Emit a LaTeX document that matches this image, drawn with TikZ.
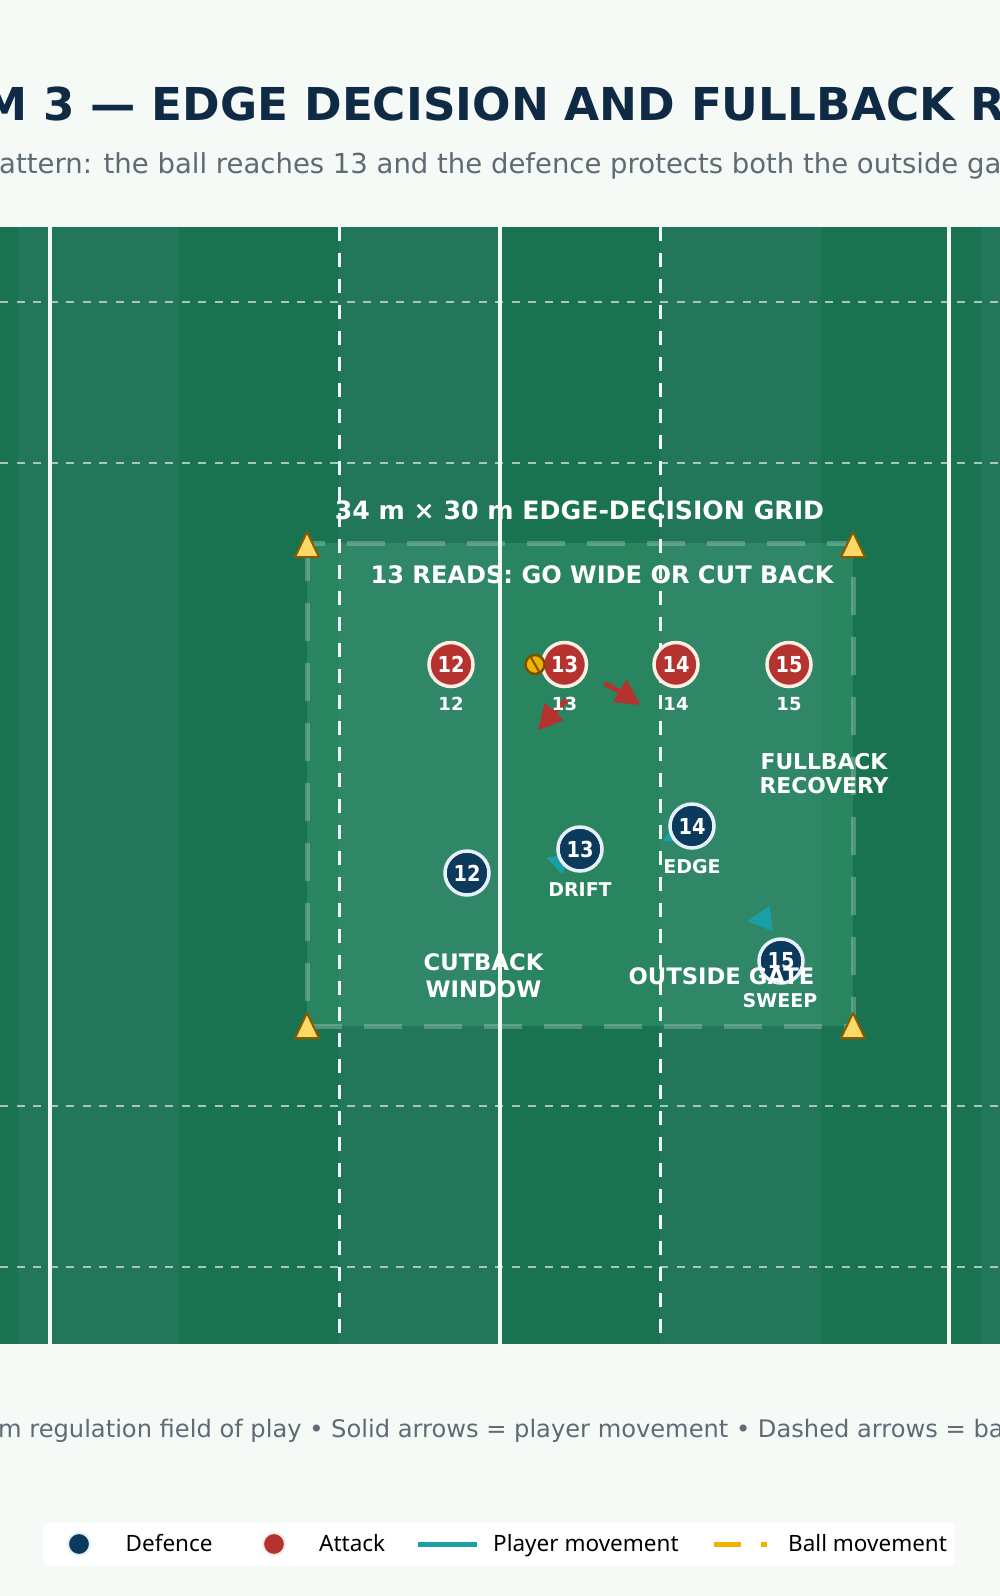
\documentclass[tikz,border=0pt]{standalone}
\usepackage{fontspec}
\setmainfont{DejaVu Sans}
\newfontfamily\nsf{Noto Sans}
\newfontfamily\numfont{DejaVu Sans}[FakeStretch=0.88]
\usetikzlibrary{arrows.meta}
\definecolor{pagebg}{HTML}{F5FAF6}
\definecolor{stripeA}{HTML}{1A7350}
\definecolor{stripeB}{HTML}{22765A}
\definecolor{gridfill}{HTML}{67CFA1}
\definecolor{titlecol}{HTML}{0F2A44}
\definecolor{subcol}{HTML}{5E6A74}
\definecolor{atk}{HTML}{B5332E}
\definecolor{atkring}{HTML}{FBEEE4}
\definecolor{def}{HTML}{0C3A5D}
\definecolor{defring}{HTML}{E6F0F8}
\definecolor{mover}{HTML}{1A9FA6}
\definecolor{ballfill}{HTML}{F2B300}
\definecolor{ballline}{HTML}{7A5000}
\definecolor{conefill}{HTML}{FFD966}
\definecolor{conedraw}{HTML}{8A5A00}
\definecolor{fieldline}{HTML}{F2F8F4}
\begin{document}
\begin{tikzpicture}[x=1pt,y=-1pt,
  attacker/.style={circle, fill=atk, draw=atkring, line width=3.5pt, minimum size=44pt, inner sep=0pt, text=white, font=\numfont\bfseries\fontsize{22}{22}\selectfont},
  defender/.style={circle, fill=def, draw=defring, line width=3.5pt, minimum size=44pt, inner sep=0pt, text=white, font=\numfont\bfseries\fontsize{22}{22}\selectfont},
  tag/.style={anchor=base, inner sep=0pt, text=white, font=\bfseries\fontsize{18}{18}\selectfont},
  zone/.style={anchor=base, inner sep=0pt, text=white, font=\bfseries\fontsize{22.3}{22.3}\selectfont},
  gridlbl/.style={anchor=base, inner sep=0pt, text=white},
  solidline/.style={draw=fieldline, line width=4pt},
  dashline/.style={draw=fieldline, line width=3pt, dash pattern=on 14pt off 12pt},
  dotline/.style={draw=white, draw opacity=0.6, line width=2.5pt, dash pattern=on 8pt off 8.5pt},
  cone/.style={fill=conefill, draw=conedraw, line width=2pt, line join=round},
  atkhead/.style={fill=atk, draw=atk, line width=1.5pt, line join=round},
  defhead/.style={fill=mover, draw=mover, line width=1.5pt, line join=round},
  legtext/.style={anchor=base west, inner sep=0pt, text=black, font=\nsf\fontsize{22.5}{22.5}\selectfont},
  legdot/.style={circle, minimum size=22pt, inner sep=0pt, line width=2pt}
]
\useasboundingbox (0,0) rectangle (1000,1596);
\fill[pagebg] (0,0) rectangle (1000,1596);

% title and subtitle
\node[anchor=base, inner sep=0pt, text=titlecol, font=\bfseries\fontsize{45.3}{45.3}\selectfont] (title) at (512,120.5) {DIAGRAM 3 — EDGE DECISION AND FULLBACK RECOVERY};
\node[anchor=base west, inner sep=0pt, text=subcol, font=\fontsize{27.5}{27.5}\selectfont] (subtitle) at (-1,173) {\llap{Right-edge attack p}attern: the ball reaches 13 and the defence protects both the outside gate and the cutback.};

% field stripes
\fill[stripeA] (0,227) rectangle (1000,1344);
\foreach \xa in {18,339,660,981} \fill[stripeB] (\xa,227) rectangle ++(160.5,1117);

% grid overlay
\fill[gridfill, fill opacity=0.2] (307,543) rectangle (853,1026);
\draw[white, draw opacity=0.24, line width=5pt, dash pattern=on 38pt off 22pt] (307,543) rectangle (853,1026);

\node[gridlbl, font=\bfseries\fontsize{25.2}{25.2}\selectfont] (gridname) at (579.5,519) {34 m × 30 m EDGE-DECISION GRID};
\node[gridlbl, font=\bfseries\fontsize{24.1}{24.1}\selectfont] (reads) at (602,583) {13 READS: GO WIDE OR CUT BACK};

% field markings
\foreach \yy in {302,463,1106,1267} \draw[dotline] (0,\yy) -- (1000,\yy);
\foreach \xx in {50,500,949} \draw[solidline] (\xx,227) -- (\xx,1344);
\foreach \xx in {339,660} \draw[dashline] (\xx,227) -- (\xx,1344);

% cones
\foreach \cx/\cy in {307/545,853/545,307/1026,853/1026}
  \draw[cone] (\cx,\cy-13) -- (\cx-12,\cy+12) -- (\cx+12,\cy+12) -- cycle;

% movement arrows (drawn under players)
\coordinate (ra1s) at (606,684);
\coordinate (ra1b) at (620,692);
\draw[atk, line width=5pt, line cap=round] (ra1s) -- (ra1b);
\draw[atkhead] (639,704) -- (614,701.5) -- (626.5,681) -- cycle;
\coordinate (ra2s) at (566,700);
\coordinate (ra2b) at (555,712);
\draw[atk, line width=5pt, line cap=round] (ra2s) -- (ra2b);
\draw[atkhead] (539,729) -- (562.5,720) -- (545,704) -- cycle;
\draw[defhead] (548,858) -- (568,855) -- (562,873) -- cycle;
\draw[defhead] (664,840) -- (685,842) -- (677,824) -- cycle;
\draw[defhead] (749,921) -- (769,907) -- (772,930) -- cycle;

% attackers
\node[attacker] (a12) at (451,664.5) {12};
\node[attacker] (a13) at (564.5,664.5) {13};
\node[attacker] (a14) at (676,664.5) {14};
\node[attacker] (a15) at (789,664.5) {15};
\node[tag] (a12t) at (451,710.5) {12};
\node[tag] (a13t) at (564.5,710.5) {13};
\node[tag] (a14t) at (676,710.5) {14};
\node[tag] (a15t) at (789,710.5) {15};

% ball
\node[circle, fill=ballfill, draw=ballline, line width=2.5pt, minimum size=19pt, inner sep=0pt] (ball) at (535,664.5) {};
\draw[ballline, line width=2pt] ([shift={(-4,-7)}]ball.center) -- ([shift={(4,7)}]ball.center);

% defenders
\node[defender] (d12) at (467,873) {12};
\node[defender] (d13) at (580,849) {13};
\node[defender] (d14) at (692,826) {14};
\node[defender] (d15) at (781,961) {15};
\node[tag, font=\bfseries\fontsize{19}{19}\selectfont] (drift) at (580,896) {DRIFT};
\node[tag, font=\bfseries\fontsize{19}{19}\selectfont] (edge) at (692,873) {EDGE};
\node[tag, font=\bfseries\fontsize{19}{19}\selectfont] (sweep) at (780,1007.5) {SWEEP};

% zone labels
\node[zone, font=\bfseries\fontsize{21.8}{21.8}\selectfont] (fb1) at (824,769.5) {FULLBACK};
\node[zone, font=\bfseries\fontsize{21.8}{21.8}\selectfont] (fb2) at (824,793) {RECOVERY};
\node[zone, font=\bfseries\fontsize{22.7}{22.7}\selectfont] (cb1) at (483.5,970.5) {CUTBACK};
\node[zone, font=\bfseries\fontsize{22.7}{22.7}\selectfont] (cb2) at (483.5,997.5) {WINDOW};
\node[zone, font=\bfseries\fontsize{22.7}{22.7}\selectfont] (gate) at (721.5,984.5) {OUTSIDE GATE};

% footer
\node[anchor=base west, inner sep=0pt, text=subcol, font=\fontsize{24.15}{24.15}\selectfont] (footer) at (-2,1437.5) {\llap{68 m × 100 }m regulation field of play • Solid arrows = player movement • Dashed arrows = ball movement};

% legend
\fill[white, rounded corners=4pt] (43,1523) rectangle (955,1566);
\node[legdot, fill=def, draw=defring] (ldef) at (79,1544) {};
\node[legtext] (ldeft) at (125.5,1551) {Defence};
\node[legdot, fill=atk, draw=atkring] (latk) at (274,1544) {};
\node[legtext] (latkt) at (319,1551) {Attack};
\coordinate (lpa) at (418,1544);
\coordinate (lpb) at (477,1544);
\draw[mover, line width=5pt] (lpa) -- (lpb);
\node[legtext] (lplt) at (493,1551) {Player movement};
\coordinate (lba) at (714,1544);
\coordinate (lbb) at (741,1544);
\coordinate (lbc) at (761,1544);
\coordinate (lbd) at (767,1544);
\draw[ballfill, line width=5pt] (lba) -- (lbb);
\draw[ballfill, line width=5pt] (lbc) -- (lbd);
\node[legtext] (lbt) at (788,1551) {Ball movement};
\end{tikzpicture}
\end{document}
